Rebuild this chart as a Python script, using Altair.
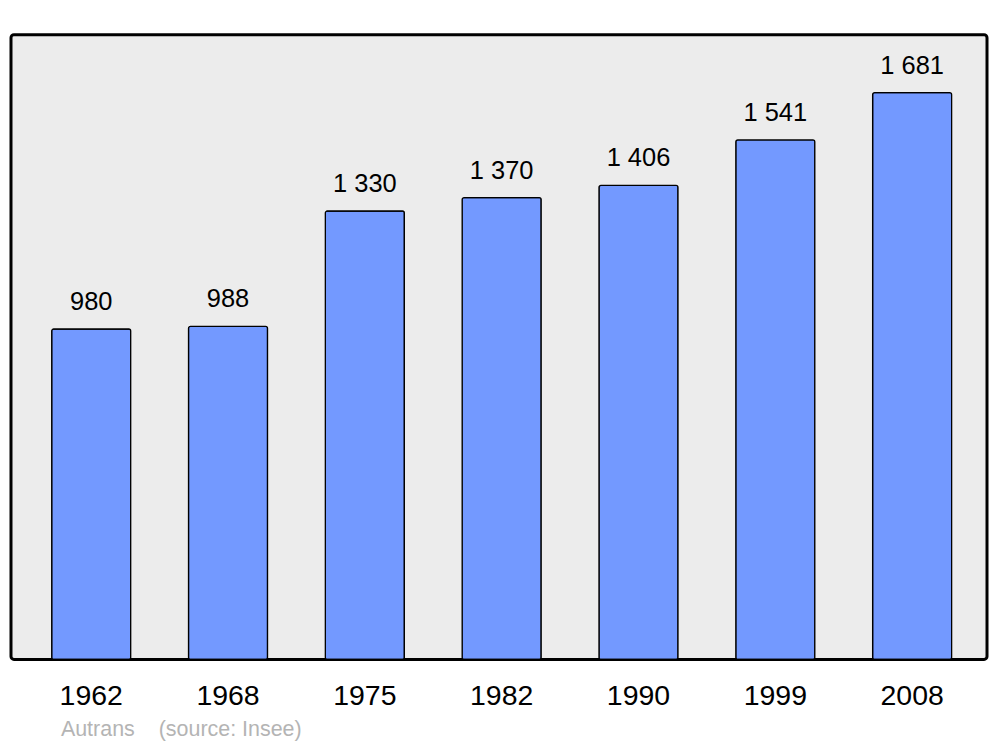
import altair as alt
import pandas as pd

years = ["1962", "1968", "1975", "1982", "1990", "1999", "2008"]
population = [980, 988, 1330, 1370, 1406, 1541, 1681]
labels = ["980", "988", "1 330", "1 370", "1 406", "1 541", "1 681"]

df = pd.DataFrame({"year": years, "pop": population, "label": labels})

x = alt.X("year:O", sort=years, title=None,
          scale=alt.Scale(paddingInner=0.4225, paddingOuter=0.278, align=0.535),
          axis=alt.Axis(labelAngle=0, domain=False, ticks=False, labelFontSize=28.5,
                        labelFont="Liberation Sans", labelColor="black", labelPadding=22))
y = alt.Y("pop:Q", title=None, scale=alt.Scale(domain=[0, 1853], nice=False, zero=True),
          axis=None)

base = alt.Chart(df)
bars = base.mark_bar(color="#7399ff", stroke="black", strokeWidth=1.3, cornerRadius=2).encode(x=x, y=y)
text = base.mark_text(dy=-19, fontSize=25.5, font="Liberation Sans", color="black",
                      baseline="alphabetic").encode(x=x, y=y, text="label:N")

footer1 = alt.Chart(pd.DataFrame({"t": ["Autrans"]})).mark_text(
    align="left", baseline="alphabetic", fontSize=21.5, font="Liberation Sans", color="#b4b4b4"
).encode(x=alt.value(50), y=alt.value(703), text="t:N")
footer2 = alt.Chart(pd.DataFrame({"t": ["(source: Insee)"]})).mark_text(
    align="left", baseline="alphabetic", fontSize=21.5, font="Liberation Sans", color="#b4b4b4"
).encode(x=alt.value(148), y=alt.value(703), text="t:N")

chart = alt.layer(bars, text, footer1, footer2).properties(
    width=978, height=626,
    autosize=alt.AutoSizeParams(type="none"),
    padding={"left": 3, "top": 26, "right": 5, "bottom": 82},
).configure_view(fill="#ececec", stroke="black", strokeWidth=3, cornerRadius=3)

chart.save("out.html", embed_options={"renderer": "svg", "actions": False})
